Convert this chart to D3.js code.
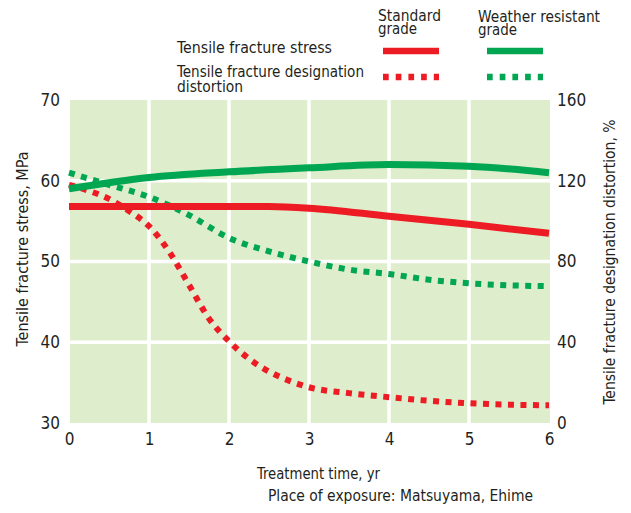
<!DOCTYPE html>
<html>
<head>
<meta charset="utf-8">
<script src="https://cdn.jsdelivr.net/npm/d3@7"></script>
<style>
  body { margin: 0; background: #fff; }
  svg text { font-family: "Liberation Sans Narrow", "DejaVu Sans Condensed", sans-serif; fill: #231f20; }
</style>
</head>
<body>
<svg id="chart" width="631" height="513"></svg>
<script>
// data
const xTicks = [0, 1, 2, 3, 4, 5, 6];
const leftTicks = [30, 40, 50, 60, 70];
const rightTicks = [0, 40, 80, 120, 160];

// Tensile fracture stress, MPa (left axis)
const stdStress = [[0, 56.8], [1, 56.8], [2, 56.8], [2.5, 56.8], [3, 56.6], [4, 55.6], [5, 54.6], [6, 53.5]];
const wrStress = [[0, 59.0], [1, 60.4], [2, 61.1], [3, 61.6], [4, 62.0], [5, 61.8], [6, 61.0]];

// Tensile fracture designation distortion, % (right axis)
const stdDist = [[0, 118], [0.25, 115], [0.5, 111], [0.75, 105], [1, 97.5], [1.25, 85], [1.5, 68.4], [1.75, 51.7],
                 [2, 40.5], [2.25, 31.8], [2.5, 25.5], [2.75, 21], [3, 17.7], [3.5, 14.8], [4, 12.8], [4.5, 11],
                 [5, 9.8], [5.5, 9.1], [6, 8.8]];
const wrDist = [[0, 124], [0.5, 118], [1, 112], [1.5, 103], [2, 91.7], [2.5, 85], [3, 80], [3.5, 76], [4, 73.8],
                [4.5, 71], [5, 69.2], [5.5, 68.2], [6, 67.8]];

const RED = "#ed1c24", GREEN = "#00a651";

const svg = d3.select("#chart");
const plot = {left: 69, right: 550, top: 100, bottom: 423};

let x = d3.scaleLinear().domain([0, 6]).range([plot.left, plot.right - 1]);
let y = d3.scaleLinear().domain([30, 70]).range([plot.bottom, plot.top]);
let y2 = d3.scaleLinear().domain([0, 160]).range([plot.bottom, plot.top]);

// background
svg.append("rect")
    .attr("x", plot.left + 1).attr("y", plot.top)
    .attr("width", plot.right - plot.left - 1).attr("height", plot.bottom - plot.top)
    .attr("fill", "#deedcb");

// white grid
svg.append("g").selectAll("line")
    .data(xTicks.slice(1, -1)).enter().append("line")
    .attr("x1", d => x(d)).attr("x2", d => x(d))
    .attr("y1", plot.top).attr("y2", plot.bottom)
    .attr("stroke", "#fff").attr("stroke-width", 3.5);
svg.append("g").selectAll("line")
    .data(leftTicks.slice(1, -1)).enter().append("line")
    .attr("x1", plot.left).attr("x2", plot.right)
    .attr("y1", d => y(d)).attr("y2", d => y(d))
    .attr("stroke", "#fff").attr("stroke-width", 3.5);

// axes (labels only)
function cleanAxis(g) {
  g.select(".domain").remove();
  g.selectAll(".tick line").remove();
  g.selectAll("text").style("font-size", "17px").attr("fill", "#231f20");
}
svg.append("g")
    .attr("transform", `translate(0,${plot.bottom})`)
    .call(d3.axisBottom(x).tickValues(xTicks).tickSize(0).tickPadding(10).tickFormat(d3.format("d")))
    .call(cleanAxis);
svg.append("g")
    .attr("transform", `translate(${plot.left},0)`)
    .call(d3.axisLeft(y).tickValues(leftTicks).tickSize(0).tickPadding(9))
    .call(cleanAxis);
svg.append("g")
    .attr("transform", `translate(${plot.right},0)`)
    .call(d3.axisRight(y2).tickValues(rightTicks).tickSize(0).tickPadding(7))
    .call(cleanAxis);

// lines
const lineL = d3.line().x(d => x(d[0])).y(d => y(d[1])).curve(d3.curveMonotoneX);
const lineR = d3.line().x(d => x(d[0])).y(d => y2(d[1])).curve(d3.curveMonotoneX);

function addLine(data, gen, color, dotted) {
  svg.append("path")
      .datum(data)
      .attr("d", gen)
      .attr("fill", "none")
      .attr("stroke", color)
      .attr("stroke-width", dotted ? 6 : 7)
      .attr("stroke-dasharray", dotted ? "6,6.5" : null);
}
addLine(wrDist, lineR, GREEN, true);
addLine(stdDist, lineR, RED, true);
addLine(stdStress, lineL, RED, false);
addLine(wrStress, lineL, GREEN, false);

// text helper: condensed text squeezed to the width seen in the reference
function label(parent, str, px, py, width, opts = {}) {
  const t = parent.append("text")
      .attr("x", px).attr("y", py)
      .style("font-size", (opts.size || 16) + "px")
      .text(str);
  if (opts.anchor) t.attr("text-anchor", opts.anchor);
  if (opts.rotate) t.attr("transform", `rotate(-90,${px},${py})`);
  if (width) t.attr("textLength", width).attr("lengthAdjust", "spacingAndGlyphs");
  return t;
}

// axis titles
label(svg, "Tensile fracture stress, MPa", 28, 249, 195, {anchor: "middle", rotate: true});
label(svg, "Tensile fracture designation distortion, %", 615, 262, 285, {anchor: "middle", rotate: true});
label(svg, "Treatment time, yr", 257, 479, 123);
label(svg, "Place of exposure: Matsuyama, Ehime", 268, 501, 265);

// legend
const legend = svg.append("g");
label(legend, "Standard", 378, 21, 63);
label(legend, "grade", 378, 34, 39);
label(legend, "Weather resistant", 478, 22, 122);
label(legend, "grade", 478, 35, 39);
label(legend, "Tensile fracture stress", 177, 53, 155);
label(legend, "Tensile fracture designation", 177, 77, 187);
label(legend, "distortion", 177, 92, 66);

const legendKeys = [
  {color: RED, x1: 383, dotted: false, y: 51},
  {color: GREEN, x1: 487, dotted: false, y: 51},
  {color: RED, x1: 383, dotted: true, y: 77},
  {color: GREEN, x1: 487, dotted: true, y: 77}
];
legend.selectAll("line.key")
    .data(legendKeys).enter().append("line")
    .attr("class", "key")
    .attr("x1", d => d.x1).attr("x2", d => d.x1 + 56)
    .attr("y1", d => d.y).attr("y2", d => d.y)
    .attr("stroke", d => d.color)
    .attr("stroke-width", 6.5)
    .attr("stroke-dasharray", d => d.dotted ? "5.7,7" : null);
</script>
</body>
</html>
